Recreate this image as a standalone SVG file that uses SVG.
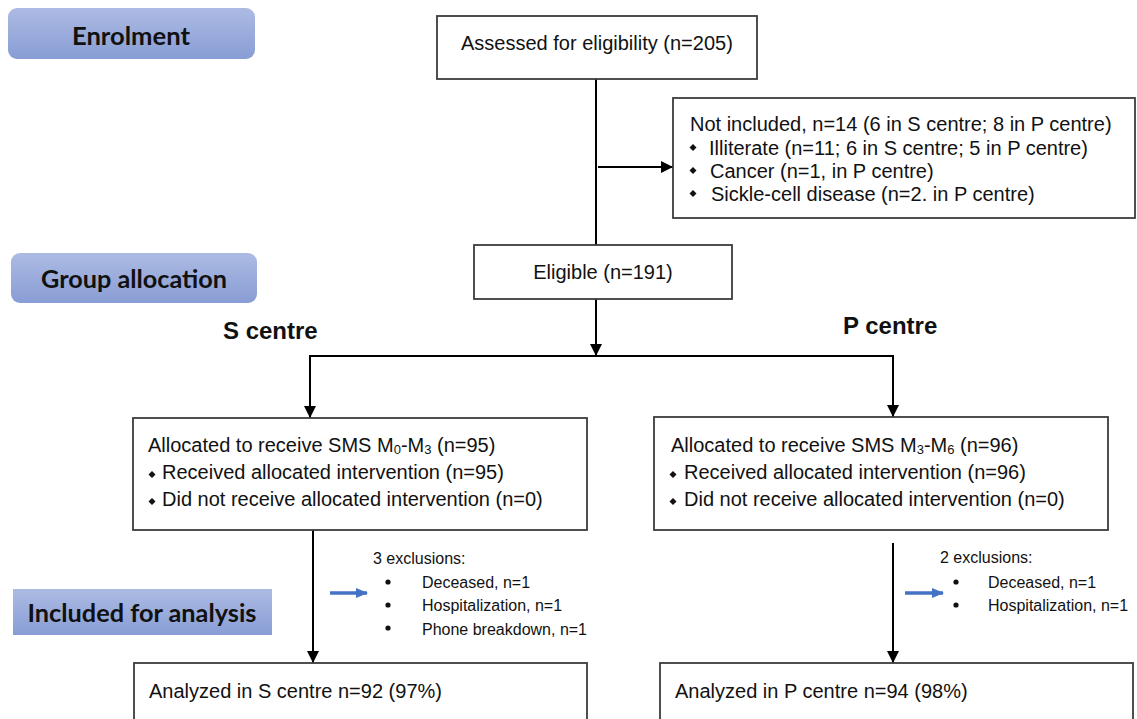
<svg xmlns="http://www.w3.org/2000/svg" width="1137" height="719" viewBox="0 0 1137 719">
<defs>
<linearGradient id="lbl" x1="0" y1="0" x2="0" y2="1">
<stop offset="0" stop-color="#adbbe3"/>
<stop offset="1" stop-color="#889dd5"/>
</linearGradient>
<marker id="ah" markerUnits="userSpaceOnUse" markerWidth="12" markerHeight="12" viewBox="0 0 12 12" refX="12" refY="6" orient="auto">
<path d="M0,0 L12,6 L0,12 Z" fill="#000"/>
</marker>
<marker id="bh" markerUnits="userSpaceOnUse" markerWidth="12" markerHeight="12" viewBox="0 0 12 12" refX="11" refY="6" orient="auto">
<path d="M0,1 L12,6 L0,11 Z" fill="#4472c4"/>
</marker>
<style>
.box{fill:#fff;stroke:#3c3c3c;stroke-width:1.8}
.t{font-family:"Liberation Sans",Arial,sans-serif;font-size:20px;fill:#111}
.s{font-family:"Liberation Sans",Arial,sans-serif;font-size:16px;fill:#111}
.h{font-family:"Liberation Sans",Arial,sans-serif;font-size:24px;font-weight:bold;fill:#111}
.lb{font-family:Lato,"Open Sans",sans-serif;font-size:24px;font-weight:bold;fill:#111}
.sub{font-size:13px}
.ln{stroke:#000;stroke-width:2;fill:none}
.bl{stroke:#4472c4;stroke-width:3.5;fill:none}
.dia{fill:#111}
</style>
</defs>

<g id="label-enrolment">
<rect x="8" y="8" width="247" height="51" rx="9" fill="url(#lbl)"/>
<text class="lb" x="131" y="45" text-anchor="middle" textLength="118" lengthAdjust="spacingAndGlyphs">Enrolment</text>
</g>
<g id="label-group">
<rect x="11" y="253" width="246" height="50" rx="9" fill="url(#lbl)"/>
<text class="lb" x="134" y="288" text-anchor="middle" textLength="186" lengthAdjust="spacingAndGlyphs">Group allocation</text>
</g>
<g id="label-included">
<rect x="13" y="589" width="259" height="46" fill="url(#lbl)"/>
<text class="lb" x="142" y="622" text-anchor="middle" textLength="229" lengthAdjust="spacingAndGlyphs">Included for analysis</text>
</g>

<g id="connectors">
<line class="ln" x1="596" y1="79" x2="596" y2="245"/>
<line class="ln" x1="598" y1="167" x2="673" y2="167" marker-end="url(#ah)"/>
<line class="ln" x1="596" y1="299" x2="596" y2="356" marker-end="url(#ah)"/>
<line class="ln" x1="309" y1="356" x2="894" y2="356"/>
<line class="ln" x1="310" y1="356" x2="310" y2="418" marker-end="url(#ah)"/>
<line class="ln" x1="893" y1="356" x2="893" y2="417" marker-end="url(#ah)"/>
<line class="ln" x1="313" y1="530" x2="313" y2="663" marker-end="url(#ah)"/>
<line class="ln" x1="893" y1="543" x2="893" y2="663" marker-end="url(#ah)"/>
<line class="bl" x1="330" y1="593" x2="367" y2="593" marker-end="url(#bh)"/>
<line class="bl" x1="905" y1="593" x2="943" y2="593" marker-end="url(#bh)"/>
</g>

<g id="node-assessed">
<rect class="box" x="437" y="16" width="320" height="63"/>
<text class="t" x="461" y="50">Assessed for eligibility (n=205)</text>
</g>

<g id="node-not-included">
<rect class="box" x="673" y="98" width="462" height="120"/>
<text class="t" x="690" y="131">Not included, n=14 (6 in S centre; 8 in P centre)</text>
<path class="dia" d="M693,144 l3.5,3.5 l-3.5,3.5 l-3.5,-3.5 Z"/>
<text class="t" x="709" y="155">Illiterate (n=11; 6 in S centre; 5 in P centre)</text>
<path class="dia" d="M693,167 l3.5,3.5 l-3.5,3.5 l-3.5,-3.5 Z"/>
<text class="t" x="710" y="178">Cancer (n=1, in P centre)</text>
<path class="dia" d="M693,190 l3.5,3.5 l-3.5,3.5 l-3.5,-3.5 Z"/>
<text class="t" x="711" y="201">Sickle-cell disease (n=2. in P centre)</text>
</g>

<g id="node-eligible">
<rect class="box" x="474" y="245" width="258" height="54"/>
<text class="t" x="603" y="279" text-anchor="middle">Eligible (n=191)</text>
</g>

<g id="label-s-centre">
<text class="h" x="223" y="339">S centre</text>
</g>
<g id="label-p-centre">
<text class="h" x="843" y="334">P centre</text>
</g>

<g id="node-s-allocated">
<rect class="box" x="133" y="418" width="454" height="112"/>
<text class="t" x="148" y="452">Allocated to receive SMS M<tspan class="sub" dy="2">0</tspan><tspan dy="-2">-M</tspan><tspan class="sub" dy="2">3</tspan><tspan dy="-2"> (n=95)</tspan></text>
<path class="dia" d="M152,471 l3.5,3.5 l-3.5,3.5 l-3.5,-3.5 Z"/>
<text class="t" x="162" y="479">Received allocated intervention (n=95)</text>
<path class="dia" d="M152,498 l3.5,3.5 l-3.5,3.5 l-3.5,-3.5 Z"/>
<text class="t" x="162" y="506">Did not receive allocated intervention (n=0)</text>
</g>

<g id="node-p-allocated">
<rect class="box" x="654" y="417" width="454" height="113"/>
<text class="t" x="671" y="452">Allocated to receive SMS M<tspan class="sub" dy="2">3</tspan><tspan dy="-2">-M</tspan><tspan class="sub" dy="2">6</tspan><tspan dy="-2"> (n=96)</tspan></text>
<path class="dia" d="M673,471 l3.5,3.5 l-3.5,3.5 l-3.5,-3.5 Z"/>
<text class="t" x="684" y="479">Received allocated intervention (n=96)</text>
<path class="dia" d="M673,498 l3.5,3.5 l-3.5,3.5 l-3.5,-3.5 Z"/>
<text class="t" x="684" y="506">Did not receive allocated intervention (n=0)</text>
</g>

<g id="node-s-exclusions">
<text class="s" x="373" y="564">3 exclusions:</text>
<circle cx="388" cy="582" r="2.6" fill="#111"/>
<text class="s" x="422" y="588">Deceased, n=1</text>
<circle cx="388" cy="605" r="2.6" fill="#111"/>
<text class="s" x="422" y="611">Hospitalization, n=1</text>
<circle cx="388" cy="628" r="2.6" fill="#111"/>
<text class="s" x="422" y="635">Phone breakdown, n=1</text>
</g>

<g id="node-p-exclusions">
<text class="s" x="940" y="563">2 exclusions:</text>
<circle cx="956" cy="582" r="2.6" fill="#111"/>
<text class="s" x="988" y="588">Deceased, n=1</text>
<circle cx="956" cy="605" r="2.6" fill="#111"/>
<text class="s" x="988" y="611">Hospitalization, n=1</text>
</g>

<g id="node-s-analyzed">
<rect class="box" x="134" y="663" width="453" height="70"/>
<text class="t" x="149" y="698">Analyzed in S centre n=92 (97%)</text>
</g>

<g id="node-p-analyzed">
<rect class="box" x="660" y="663" width="473" height="70"/>
<text class="t" x="675" y="698">Analyzed in P centre n=94 (98%)</text>
</g>
</svg>
